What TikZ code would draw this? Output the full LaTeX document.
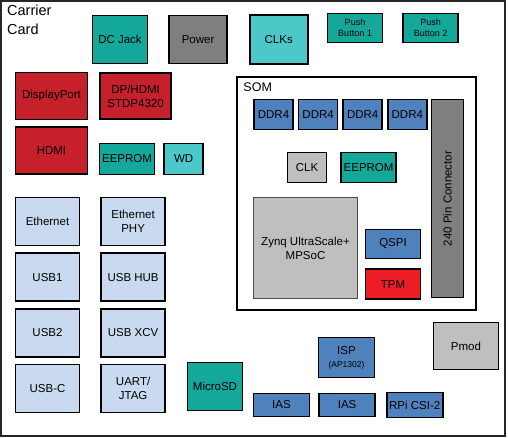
\documentclass[tikz,border=0pt]{standalone}
\usepackage{fontspec}
\setmainfont{Liberation Sans}
\usetikzlibrary{positioning}
\definecolor{tealA}{HTML}{14A89A}
\definecolor{tealB}{HTML}{4CC8C8}
\definecolor{grayD}{HTML}{7F7F7F}
\definecolor{grayL}{HTML}{BFBFBF}
\definecolor{redA}{HTML}{C6202A}
\definecolor{redB}{HTML}{EE1C24}
\definecolor{blueA}{HTML}{4F81BD}
\definecolor{blueL}{HTML}{C9DAF0}

\begin{document}
\begin{tikzpicture}[
x=1pt, y=-1pt,
block/.style  ={rectangle, draw=black, line width=1.6pt, align=center, inner sep=1pt, font=\fontsize{11.5}{14}\selectfont},
small/.style  ={block, font=\fontsize{9}{10.5}\selectfont},
frame/.style  ={rectangle, draw=black!85, line width=1.2pt},
somframe/.style={rectangle, draw=black, line width=1.5pt},
title/.style  ={anchor=north west, align=left, inner sep=0pt, font=\fontsize{14.5}{18.4}\selectfont},
]
\useasboundingbox (0,0) rectangle (508,437);

% Frames
\node[frame, minimum width=504pt, minimum height=435pt] (card) at (253,218.5) {};
\node[title] (cardlabel) at (7,5) {Carrier\\Card};
\node[somframe, minimum width=239pt, minimum height=233pt] (som) at (356.5,193.5) {};
\node[title, font=\fontsize{12.5}{14}\selectfont] (somlabel) at ([shift={(7pt,-6pt)}]som.north west) {SOM};

% Define the nodes
\node[block, fill=tealA, minimum width=55pt, minimum height=48pt] (dcjack) at (120,39.5) {DC Jack};
\node[block, fill=grayD, minimum width=58pt, minimum height=48pt, right=20pt of dcjack] (power) {Power};
\node[block, fill=tealB, minimum width=58pt, minimum height=49pt, right=21pt of power] (clks) {CLKs};
\node[small, fill=tealA, minimum width=55pt, minimum height=29pt] (pb1) at (355,28) {Push\\Button 1};
\node[small, fill=tealA, minimum width=55pt, minimum height=29pt, right=19pt of pb1] (pb2) {Push\\Button 2};

\node[block, fill=redA, minimum width=72pt, minimum height=47pt] (dport) at (51.5,96) {DisplayPort};
\node[block, fill=redA, minimum width=71pt, minimum height=46pt, right=11pt of dport] (dphdmi) {DP/HDMI\\STDP4320};
\node[block, fill=redA, minimum width=72pt, minimum height=47pt, below=6pt of dport] (hdmi) {HDMI};
\node[block, fill=tealA, minimum width=55pt, minimum height=31pt] (eeprom) at (127,159) {EEPROM};
\node[block, fill=tealB, minimum width=39pt, minimum height=31pt, right=8pt of eeprom] (wd) {WD};

\node[block, fill=blueL, minimum width=64pt, minimum height=48pt] (eth) at (47.5,221.5) {Ethernet};
\node[block, fill=blueL, minimum width=64pt, minimum height=48pt, below=6pt of eth] (usb1) {USB1};
\node[block, fill=blueL, minimum width=64pt, minimum height=48pt, below=6pt of usb1] (usb2) {USB2};
\node[block, fill=blueL, minimum width=64pt, minimum height=48pt, below=6pt of usb2] (usbc) {USB-C};
\node[block, fill=blueL, minimum width=64pt, minimum height=48pt, right=20pt of eth] (ethphy) {Ethernet\\PHY};
\node[block, fill=blueL, minimum width=64pt, minimum height=48pt, right=20pt of usb1] (usbhub) {USB HUB};
\node[block, fill=blueL, minimum width=64pt, minimum height=48pt, right=20pt of usb2] (usbxcv) {USB XCV};
\node[block, fill=blueL, minimum width=64pt, minimum height=48pt, right=20pt of usbc] (uart) {UART/\\JTAG};
\node[block, fill=tealA, minimum width=55pt, minimum height=48pt] (microsd) at (215,386.5) {MicroSD};

% SOM
\node[block, fill=blueA, minimum width=39pt, minimum height=30pt] (ddra) at (273.5,114.5) {DDR4};
\node[block, fill=blueA, minimum width=39pt, minimum height=30pt, right=4pt of ddra] (ddrb) {DDR4};
\node[block, fill=blueA, minimum width=39pt, minimum height=30pt, right=4pt of ddrb] (ddrc) {DDR4};
\node[block, fill=blueA, minimum width=39pt, minimum height=30pt, right=4pt of ddrc] (ddrd) {DDR4};
\node[block, fill=grayD, minimum width=32pt, minimum height=198pt] (pin) at (447.5,198.5) {\rotatebox{90}{240 Pin Connector}};
\node[block, fill=grayL, minimum width=39pt, minimum height=30pt] (clk) at (307,167.5) {CLK};
\node[block, fill=tealA, minimum width=55pt, minimum height=30pt, right=13pt of clk] (eeprom2) {EEPROM};
\node[block, fill=grayL, draw=black!70, line width=1pt, minimum width=104pt, minimum height=101pt] (zynq) at (305.5,248) {Zynq UltraScale+\\MPSoC};
\node[block, fill=blueA, minimum width=55pt, minimum height=29pt] (qspi) at (393,244) {QSPI};
\node[block, fill=redB, minimum width=55pt, minimum height=30pt, below=9pt of qspi] (tpm) {TPM};

% Camera and Pmod
\node[block, fill=grayL, minimum width=65pt, minimum height=47pt] (pmod) at (466,346) {Pmod};
\node[block, fill=blueA, minimum width=56pt, minimum height=40pt] (isp) at (346.5,357.5) {ISP\\[-1pt]{\fontsize{8.5}{10}\selectfont (AP1302)}};
\node[block, fill=blueA, minimum width=56pt, minimum height=23pt] (ias1) at (281.5,405) {IAS};
\node[block, fill=blueA, minimum width=56pt, minimum height=23pt, right=8pt of ias1] (ias2) {IAS};
\node[block, fill=blueA, minimum width=56pt, minimum height=25pt, right=10pt of ias2] (rpi) {RPi CSI-2};

\end{tikzpicture}
\end{document}
